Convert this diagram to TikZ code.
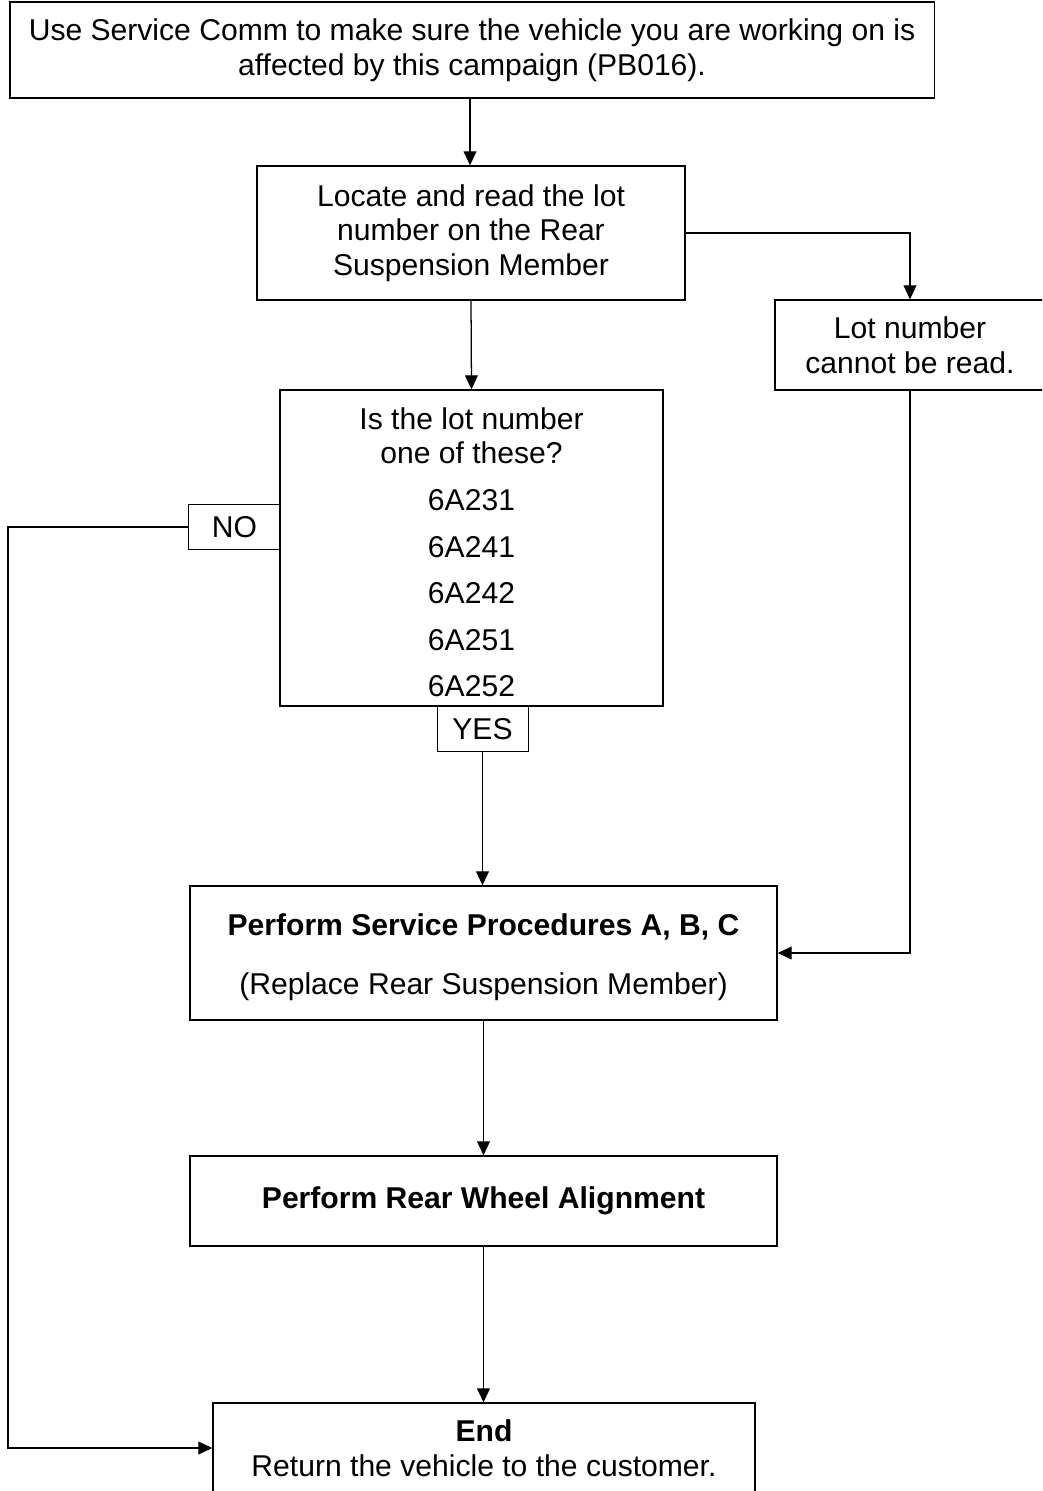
\documentclass[tikz,border=0pt]{standalone}
\usepackage{fontspec}
\setmainfont{Liberation Sans}
\usepackage{tikz}
\usetikzlibrary{arrows.meta, positioning, calc}

\begin{document}
\begin{tikzpicture}[
      x=0.025cm, y=-0.025cm,
      every node/.style={font=\fontsize{21.4}{24.6}\selectfont, align=center, inner sep=0pt},
      box/.style={draw, line width=0.9pt},
      tag/.style={draw, line width=0.7pt, minimum width=2.275cm, minimum height=1.125cm},
      flow/.style={line width=0.9pt, -{Triangle[length=3.5mm, width=3.2mm]}},
      link/.style={line width=0.9pt}
    ]
      \clip (0,0) rectangle (1042,1491);
      \useasboundingbox (0,0) rectangle (1042,1491);

      % boxes
      \node[box, minimum width=23.1cm, minimum height=2.4cm] (check) at (472,50)
        {Use Service Comm to make sure the vehicle you are working on is\\affected by this campaign (PB016).};
      \node[box, minimum width=10.7cm, minimum height=3.35cm] (locate) at (471,233)
        {Locate and read the lot\\number on the Rear\\Suspension Member};
      \node[box, minimum width=6.75cm, minimum height=2.25cm] (unread) at (910,345)
        {Lot number\\cannot be read.};
      \node[box, minimum width=9.575cm, minimum height=7.9cm] (lotq) at (471.5,548)
        {\\[-0.1cm]Is the lot number\\one of these?\\[0.3cm]6A231\\[0.3cm]6A241\\[0.3cm]6A242\\[0.3cm]6A251\\[0.3cm]6A252};
      \node[tag] (no) at (234.5,527) {NO};
      \node[tag] (yes) at (482.5,729) {YES};
      \node[box, minimum width=14.675cm, minimum height=3.35cm] (replace) at (483.5,953)
        {\mbox{}\\[-0.1cm]\textbf{Perform Service Procedures A, B, C}\\[0.62cm](Replace Rear Suspension Member)};
      \node[box, minimum width=14.675cm, minimum height=2.25cm] (align) at (483.5,1201)
        {\textbf{Perform Rear Wheel Alignment}};
      \node[box, minimum width=13.55cm, minimum height=2.25cm] (finish) at (484,1448)
        {\textbf{End}\\Return the vehicle to the customer.};

      % connectors
      \coordinate (rail) at (8,527);
      \draw[flow] (check.south -| 470,0) -- (locate.north -| 470,0);
      \draw[flow] (locate.east) -| (unread.north);
      \draw[flow] (locate.south) -- (lotq.north);
      \draw[flow] (unread.south) |- (replace.east);
      \draw[flow] (no.west) -- (rail) |- (finish.west);
      \draw[flow] (yes.south) -- (yes.south |- replace.north);
      \draw[flow] (replace.south) -- (align.north);
      \draw[flow] (align.south) -- (align.south |- finish.north);
    \end{tikzpicture}
\end{document}
